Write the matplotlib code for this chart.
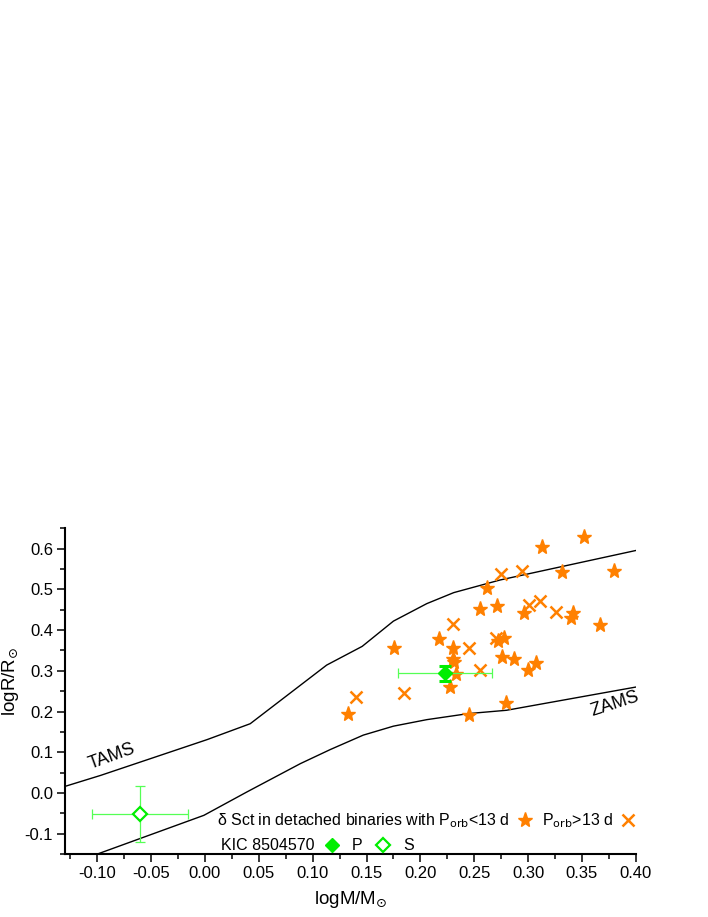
import matplotlib
matplotlib.use("Agg")
import matplotlib.pyplot as plt
from matplotlib.lines import Line2D
from matplotlib.ticker import MultipleLocator, FormatStrFormatter

plt.rcParams['font.family'] = ['Liberation Sans', 'DejaVu Sans']
plt.rcParams['mathtext.fontset'] = 'dejavusans'

# ---- data ----
star_logM = [0.313, 0.352, 0.332, 0.380, 0.262, 0.255, 0.271, 0.296, 0.342, 0.340,
             0.367, 0.217, 0.176, 0.230, 0.272, 0.278, 0.230, 0.231, 0.276, 0.287,
             0.307, 0.300, 0.233, 0.228, 0.280, 0.245, 0.133]
star_logR = [0.604, 0.628, 0.542, 0.545, 0.504, 0.451, 0.459, 0.443, 0.441, 0.429,
             0.412, 0.378, 0.355, 0.357, 0.372, 0.381, 0.330, 0.322, 0.333, 0.329,
             0.318, 0.302, 0.291, 0.260, 0.221, 0.191, 0.195]

cross_logM = [0.140, 0.185, 0.230, 0.245, 0.255, 0.270, 0.2745, 0.2945, 0.301, 0.311, 0.326]
cross_logR = [0.235, 0.246, 0.415, 0.356, 0.302, 0.381, 0.537, 0.546, 0.461, 0.471, 0.444]

tams_logM = [-0.135, -0.097, 0.002, 0.042, 0.113, 0.146, 0.175, 0.206, 0.231, 0.274, 0.401]
tams_logR = [0.012, 0.043, 0.131, 0.170, 0.314, 0.360, 0.422, 0.465, 0.492, 0.523, 0.596]

zams_logM = [-0.105, -0.001, 0.039, 0.0886, 0.1164, 0.147, 0.175, 0.206, 0.245, 0.280, 0.400]
zams_logR = [-0.155, -0.055, 0.0025, 0.072, 0.1066, 0.142, 0.164, 0.180, 0.195, 0.203, 0.260]

P_logM, P_logR = [0.2228], [0.2934]
P_xerr, P_yerr = [0.044], [0.019]
S_logM, S_logR = [-0.0605], [-0.052]
S_xerr, S_yerr = [0.0448], [0.0696]

orange = '#FF8000'
green = '#00EE00'
lgreen = '#55FF55'

fig = plt.figure(figsize=(7.08, 9.17), dpi=100)
ax = fig.add_axes([65/708, 63/917, (635.7-65)/708, (854-528.3)/917])

ax.plot(tams_logM, tams_logR, color='black', lw=1.0, zorder=2)
ax.plot(zams_logM, zams_logR, color='black', lw=1.0, zorder=2)

ax.plot(star_logM, star_logR, ls='none', marker='*', ms=11, color=orange, mec=orange, zorder=3)
ax.plot(cross_logM, cross_logR, ls='none', marker='x', ms=8, mew=1.8, color=orange, zorder=3)

# P component
ax.errorbar(P_logM, P_logR, xerr=P_xerr, fmt='none', ecolor=lgreen, elinewidth=0.9,
            capsize=3.5, capthick=0.9, zorder=4)
ax.errorbar(P_logM, P_logR, yerr=P_yerr, fmt='none', ecolor=green, elinewidth=2.2,
            capsize=4.5, capthick=2.2, zorder=4)
ax.plot(P_logM, P_logR, ls='none', marker='D', ms=7, color=green, mec=green, zorder=5)
# S component
ax.errorbar(S_logM, S_logR, xerr=S_xerr, yerr=S_yerr, fmt='none', ecolor=lgreen,
            elinewidth=0.9, capsize=3.5, capthick=0.9, zorder=4)
ax.plot(S_logM, S_logR, ls='none', marker='D', ms=7, mfc='white', mec=green, mew=1.6, zorder=5)

ax.set_xlim(-0.13, 0.40)
ax.set_ylim(-0.15, 0.65)
ax.xaxis.set_major_locator(MultipleLocator(0.05))
ax.xaxis.set_minor_locator(MultipleLocator(0.025))
ax.yaxis.set_major_locator(MultipleLocator(0.1))
ax.yaxis.set_minor_locator(MultipleLocator(0.05))
ax.xaxis.set_major_formatter(FormatStrFormatter('%.2f'))
ax.yaxis.set_major_formatter(FormatStrFormatter('%.1f'))

for s in ['top', 'right']:
    ax.spines[s].set_visible(False)
for s in ['left', 'bottom']:
    ax.spines[s].set_linewidth(1.5)
ax.tick_params(which='major', direction='out', length=5.5, width=1.1, labelsize=12, pad=3)
ax.tick_params(which='minor', direction='out', length=3.5, width=1.1)

ax.set_xlabel(r'logM/M$_{\odot}$', fontsize=13.5)
ax.set_ylabel(r'logR/R$_{\odot}$', fontsize=13.5)
ax.xaxis.set_label_coords(0.5, -0.108)
ax.yaxis.set_label_coords(-0.077, 0.53)

ax.text(-0.0865, 0.09, 'TAMS', rotation=20, fontsize=13, ha='center', va='center')
ax.text(0.381, 0.219, 'ZAMS', rotation=18, fontsize=13, ha='center', va='center')

# legends
h_star = Line2D([], [], ls='none', marker='*', ms=11, color=orange)
h_cross = Line2D([], [], ls='none', marker='x', ms=8, mew=1.8, color=orange)
leg1 = ax.legend([h_star, h_cross],
                 ['δ Sct in detached binaries with P$_{\\mathrm{orb}}$<13 d',
                  'P$_{\\mathrm{orb}}$>13 d'],
                 ncol=2, markerfirst=False, frameon=False, fontsize=11.5,
                 loc='center left', bbox_to_anchor=(217/708, 1-821/917),
                 bbox_transform=fig.transFigure, handlelength=1.0, handletextpad=0.45,
                 columnspacing=0.55, borderpad=0, borderaxespad=0)
ax.add_artist(leg1)

fig.text(221/708, 1-846/917, 'KIC 8504570', fontsize=11.5, ha='left', va='center')
h_P = Line2D([], [], ls='none', marker='D', ms=7, color=green)
h_S = Line2D([], [], ls='none', marker='D', ms=7, mfc='white', mec=green, mew=1.6)
leg2 = ax.legend([h_P, h_S], ['P', 'S'], ncol=2, frameon=False, fontsize=11.5,
                 loc='center left', bbox_to_anchor=(324/708, 1-846/917),
                 bbox_transform=fig.transFigure, handlelength=1.0, handletextpad=0.75,
                 columnspacing=0.8, borderpad=0, borderaxespad=0)

fig.savefig('out.png', dpi=100)
